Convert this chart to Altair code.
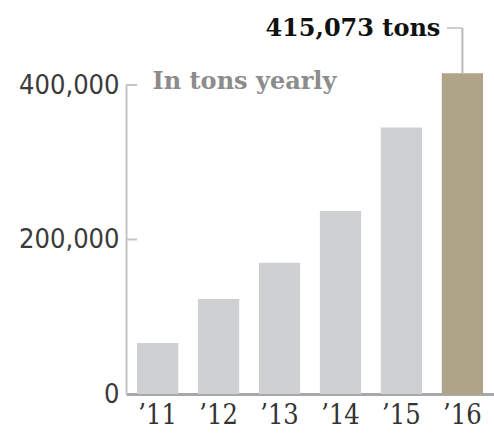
import altair as alt
import pandas as pd

years = ["’11", "’12", "’13", "’14", "’15", "’16"]
values = [66000, 123000, 170000, 237000, 345000, 415073]
tick_values = [0, 200000, 400000]
inner_ticks = [200000, 400000]
highlight_year = "’16"
subtitle = "In tons yearly"

df = pd.DataFrame({"year": years, "value": values})
ticks_df = pd.DataFrame({"value": inner_ticks})

GRAY = "#cfd0d2"
TAN = "#b0a488"
LINE = "#c4c4c4"

x_enc = alt.X(
    "year:N",
    sort=years,
    scale=alt.Scale(paddingInner=0.323, paddingOuter=0.18),
    axis=alt.Axis(
        title=None,
        labelAngle=0,
        ticks=False,
        domainColor="#a8a8a8",
        domainWidth=3,
        labelFont="DejaVu Serif Condensed",
        labelFontSize=27,
        labelColor="#333333",
        labelPadding=8,
    ),
)

y_scale = alt.Scale(domain=[0, 400000], nice=False)

bars = alt.Chart(df).mark_bar().encode(
    x=x_enc,
    y=alt.Y(
        "value:Q",
        scale=y_scale,
        axis=alt.Axis(
            values=tick_values,
            format=",.0f",
            grid=False,
            ticks=False,
            domainColor=LINE,
            domainWidth=2,
            labelFont="DejaVu Sans Condensed",
            labelFontSize=27,
            labelColor="#3a3a3a",
            labelPadding=7,
            title=subtitle,
            titleAngle=0,
            titleAlign="left",
            titleBaseline="alphabetic",
            titleX=26,
            titleY=3,
            titleFont="DejaVu Serif",
            titleFontWeight="bold",
            titleFontSize=24,
            titleColor="#8c8c8c",
        ),
    ),
    color=alt.condition(
        alt.datum.year == highlight_year, alt.value(TAN), alt.value(GRAY)
    ),
)

tick_rules = alt.Chart(ticks_df).mark_rule(color=LINE, strokeWidth=2).encode(
    y=alt.Y("value:Q", scale=y_scale),
    x=alt.value(0),
    x2=alt.value(11),
)

ann_base = alt.Chart(df).transform_filter(alt.datum.year == highlight_year)

leader_v = ann_base.mark_rule(color="#b8b8b8", strokeWidth=2).encode(
    x=alt.X("year:N", sort=years),
    y=alt.Y("value:Q", scale=y_scale),
    y2=alt.value(-57),
)

leader_h = ann_base.mark_tick(
    orient="horizontal", size=15, thickness=2, xOffset=-8, color="#b8b8b8"
).encode(
    x=alt.X("year:N", sort=years),
    y=alt.value(-57),
)

label = ann_base.transform_calculate(
    label="format(datum.value, ',') + ' tons'"
).mark_text(
    align="right",
    baseline="middle",
    dx=-22,
    font="DejaVu Serif",
    fontWeight="bold",
    fontSize=24,
    color="#111111",
).encode(
    x=alt.X("year:N", sort=years),
    y=alt.value(-56),
    text="label:N",
)

chart = (
    alt.layer(bars, tick_rules, leader_v, leader_h, label)
    .properties(
        width=368,
        height=309,
        autosize=alt.AutoSizeParams(type="none"),
        padding={"left": 126, "top": 85, "right": 0, "bottom": 40},
    )
    .configure_view(stroke=None)
)

chart.save("out.html", embed_options={"renderer": "svg", "actions": False})
